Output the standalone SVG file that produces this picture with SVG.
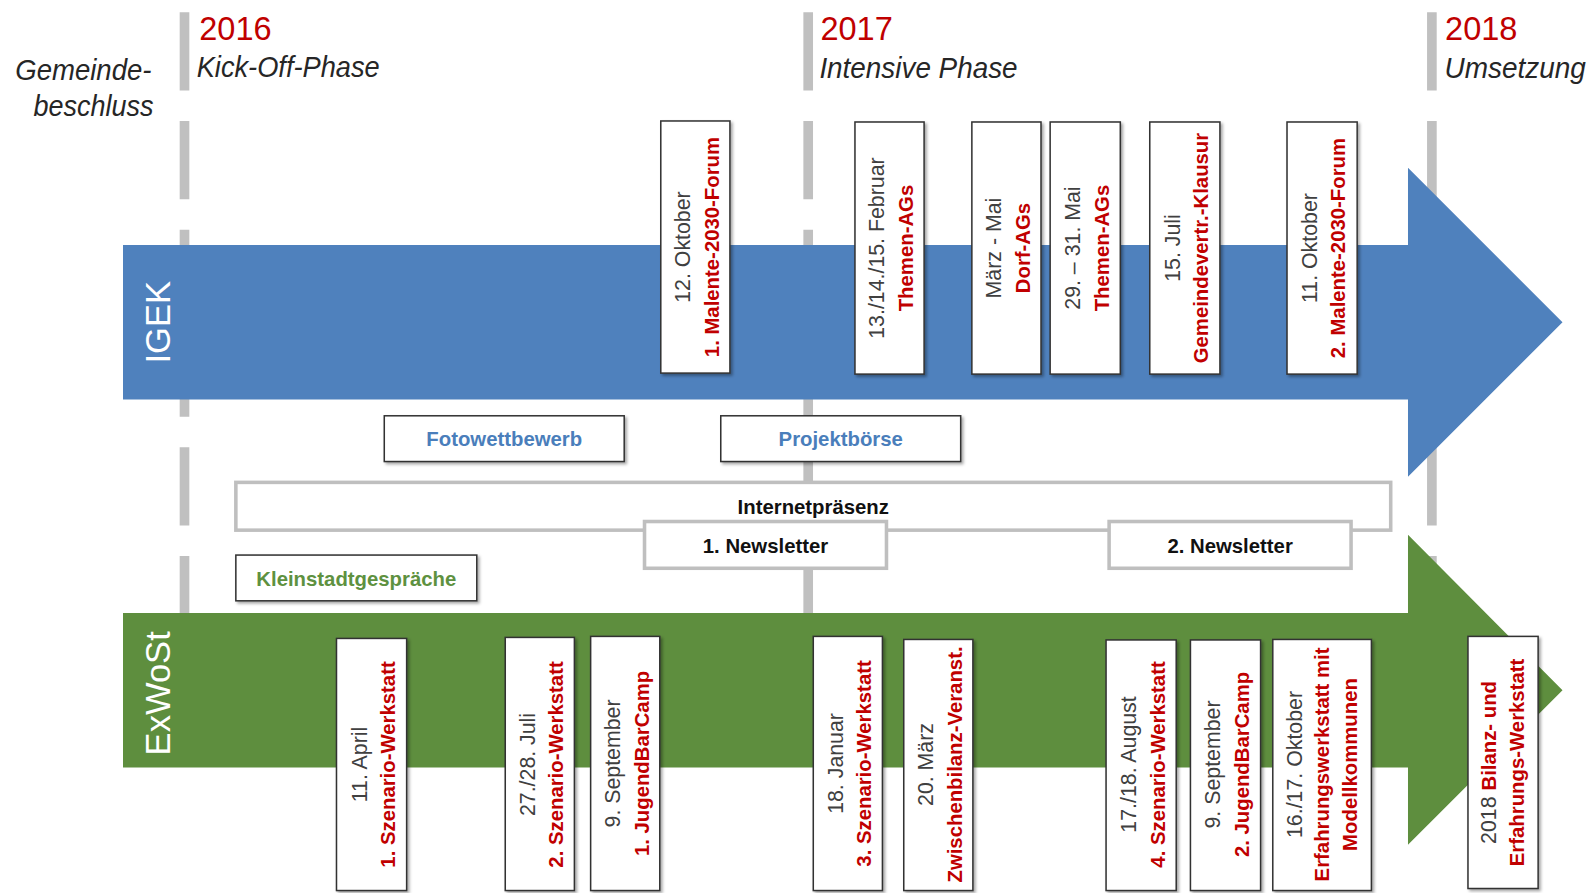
<svg xmlns="http://www.w3.org/2000/svg" width="1594" height="893" viewBox="0 0 1594 893">
<defs>
<filter id="sh" x="-20%" y="-20%" width="140%" height="140%">
<feDropShadow dx="2" dy="2" stdDeviation="1.8" flood-color="#000" flood-opacity="0.35"/>
</filter>
<style>
.hd{font-family:"Liberation Sans",Arial,sans-serif;font-style:italic;font-size:29px;fill:#262626}
.yr{font-family:"Liberation Sans",Arial,sans-serif;font-size:32px;fill:#c00000}
.ev{fill:#fff;stroke:#333;stroke-width:1.5;filter:url(#sh)}
.gb{fill:#fff;stroke:#bfbfbf;stroke-width:3.5}
.bx{fill:#fff;stroke:#333;stroke-width:1.5;filter:url(#sh)}
.d{font-family:"Liberation Sans",Arial,sans-serif;font-size:21px;fill:#404040;text-anchor:middle}
.r{font-size:20px;font-weight:bold;fill:#c00000}
.lb{font-family:"Liberation Sans",Arial,sans-serif;font-size:20px;font-weight:bold;text-anchor:middle}
.lane{font-family:"Liberation Sans",Arial,sans-serif;font-size:34px;fill:#fff;text-anchor:middle}
.guide{stroke:#c0c0c0;stroke-width:9.5;stroke-dasharray:77 30;fill:none}
</style>
</defs>
<rect width="1594" height="893" fill="#fff"/>
<g transform="scale(1.0166)">
<g id="connectors">
<line class="guide" x1="181.5" y1="12" x2="181.5" y2="604"/>
<line class="guide" x1="795" y1="12" x2="795" y2="604"/>
<line class="guide" x1="1408.5" y1="12" x2="1408.5" y2="604"/>
</g>
<g id="header">
<text class="hd" x="15" y="78.5" textLength="134" lengthAdjust="spacingAndGlyphs">Gemeinde-</text>
<text class="hd" x="33" y="114.5" textLength="118" lengthAdjust="spacingAndGlyphs">beschluss</text>
<text class="yr" x="196" y="39">2016</text>
<text class="hd" x="193.5" y="75.5" textLength="180" lengthAdjust="spacingAndGlyphs">Kick-Off-Phase</text>
<text class="yr" x="807" y="39">2017</text>
<text class="hd" x="806" y="77" textLength="195" lengthAdjust="spacingAndGlyphs">Intensive Phase</text>
<text class="yr" x="1421.5" y="39">2018</text>
<text class="hd" x="1421" y="77" textLength="139" lengthAdjust="spacingAndGlyphs">Umsetzung</text>
</g>
<g id="lane-igek">
<path d="M121,241 H1385 V165 L1537,317 L1385,469 V393 H121 Z" fill="#4f81bd"/>
<text class="lane" transform="translate(167,317) rotate(-90)">IGEK</text>
</g>
<g id="lane-exwost">
<path d="M121,603 H1385 V526 L1537,679 L1385,831 V755 H121 Z" fill="#5e8e3e"/>
<text class="lane" transform="translate(167,682) rotate(-90)">ExWoSt</text>
</g>
<g id="igek-1"><rect class="ev" x="650" y="119" width="68" height="248"/>
<text class="d" transform="translate(679,243) rotate(-90)">12. Oktober</text>
<text class="d r" transform="translate(707,243) rotate(-90)">1. Malente-2030-Forum</text></g>
<g id="igek-2"><rect class="ev" x="841" y="120" width="68" height="248"/>
<text class="d" transform="translate(870,244) rotate(-90)">13./14./15. Februar</text>
<text class="d r" transform="translate(898,244) rotate(-90)">Themen-AGs</text></g>
<g id="igek-3"><rect class="ev" x="956" y="120" width="68" height="248"/>
<text class="d" transform="translate(985,244) rotate(-90)">März - Mai</text>
<text class="d r" transform="translate(1013,244) rotate(-90)">Dorf-AGs</text></g>
<g id="igek-4"><rect class="ev" x="1033" y="120" width="69" height="248"/>
<text class="d" transform="translate(1062.5,244) rotate(-90)">29. – 31. Mai</text>
<text class="d r" transform="translate(1090.5,244) rotate(-90)">Themen-AGs</text></g>
<g id="igek-5"><rect class="ev" x="1131" y="120" width="69" height="248"/>
<text class="d" transform="translate(1160.5,244) rotate(-90)">15. Juli</text>
<text class="d r" transform="translate(1188.5,244) rotate(-90)">Gemeindevertr.-Klausur</text></g>
<g id="igek-6"><rect class="ev" x="1266" y="120" width="69" height="248"/>
<text class="d" transform="translate(1295.5,244) rotate(-90)">11. Oktober</text>
<text class="d r" transform="translate(1323.5,244) rotate(-90)">2. Malente-2030-Forum</text></g>
<g id="fotowettbewerb"><rect class="bx" x="378" y="409" width="236" height="45"/>
<text class="lb" x="496" y="439" fill="#4a7ebb">Fotowettbewerb</text></g>
<g id="projektboerse"><rect class="bx" x="709" y="409" width="236" height="45"/>
<text class="lb" x="827" y="439" fill="#4a7ebb">Projektbörse</text></g>
<g id="internetpraesenz"><rect class="gb" x="232" y="474.5" width="1136" height="47"/>
<text class="lb" x="800" y="506" fill="#111">Internetpräsenz</text></g>
<g id="newsletter-1"><rect class="gb" x="634" y="513" width="238" height="46"/>
<text class="lb" x="753" y="544" fill="#111">1. Newsletter</text></g>
<g id="newsletter-2"><rect class="gb" x="1091" y="513" width="238" height="46"/>
<text class="lb" x="1210" y="544" fill="#111">2. Newsletter</text></g>
<g id="kleinstadtgespraeche"><rect class="bx" x="232" y="546" width="237" height="45"/>
<text class="lb" x="350.5" y="576" fill="#5e9140">Kleinstadtgespräche</text></g>
<g id="exwost-1"><rect class="ev" x="331" y="628" width="69" height="248"/>
<text class="d" transform="translate(361,752) rotate(-90)">11. April</text>
<text class="d r" transform="translate(389,752) rotate(-90)">1. Szenario-Werkstatt</text></g>
<g id="exwost-2"><rect class="ev" x="497" y="627" width="68" height="249"/>
<text class="d" transform="translate(526,752) rotate(-90)">27./28. Juli</text>
<text class="d r" transform="translate(554,752) rotate(-90)">2. Szenario-Werkstatt</text></g>
<g id="exwost-3"><rect class="ev" x="581" y="626" width="68" height="250"/>
<text class="d" transform="translate(610,751) rotate(-90)">9. September</text>
<text class="d r" transform="translate(638,751) rotate(-90)">1. JugendBarCamp</text></g>
<g id="exwost-4"><rect class="ev" x="800" y="626" width="68" height="250"/>
<text class="d" transform="translate(829,751) rotate(-90)">18. Januar</text>
<text class="d r" transform="translate(857,751) rotate(-90)">3. Szenario-Werkstatt</text></g>
<g id="exwost-5"><rect class="ev" x="889" y="629" width="68" height="247"/>
<text class="d" transform="translate(918,752) rotate(-90)">20. März</text>
<text class="d r" transform="translate(946,752) rotate(-90)">Zwischenbilanz-Veranst.</text></g>
<g id="exwost-6"><rect class="ev" x="1088" y="629.5" width="69" height="246.5"/>
<text class="d" transform="translate(1117.5,752) rotate(-90)">17./18. August</text>
<text class="d r" transform="translate(1145.5,752) rotate(-90)">4. Szenario-Werkstatt</text></g>
<g id="exwost-7"><rect class="ev" x="1171" y="629.5" width="69" height="246.5"/>
<text class="d" transform="translate(1200.5,752) rotate(-90)">9. September</text>
<text class="d r" transform="translate(1228.5,752) rotate(-90)">2. JugendBarCamp</text></g>
<g id="exwost-8"><rect class="ev" x="1252" y="629" width="97" height="247"/>
<text class="d" transform="translate(1280.5,752) rotate(-90)">16./17. Oktober</text>
<text class="d r" transform="translate(1307.5,752) rotate(-90)">Erfahrungswerkstatt mit</text>
<text class="d r" transform="translate(1334.5,752) rotate(-90)">Modellkommunen</text></g>
<g id="exwost-9"><rect class="ev" x="1444" y="626" width="69" height="248"/>
<text class="d" transform="translate(1472,750) rotate(-90)">2018 <tspan class="r">Bilanz- und</tspan></text>
<text class="d r" transform="translate(1499,750) rotate(-90)">Erfahrungs-Werkstatt</text></g>
</g>
</svg>
